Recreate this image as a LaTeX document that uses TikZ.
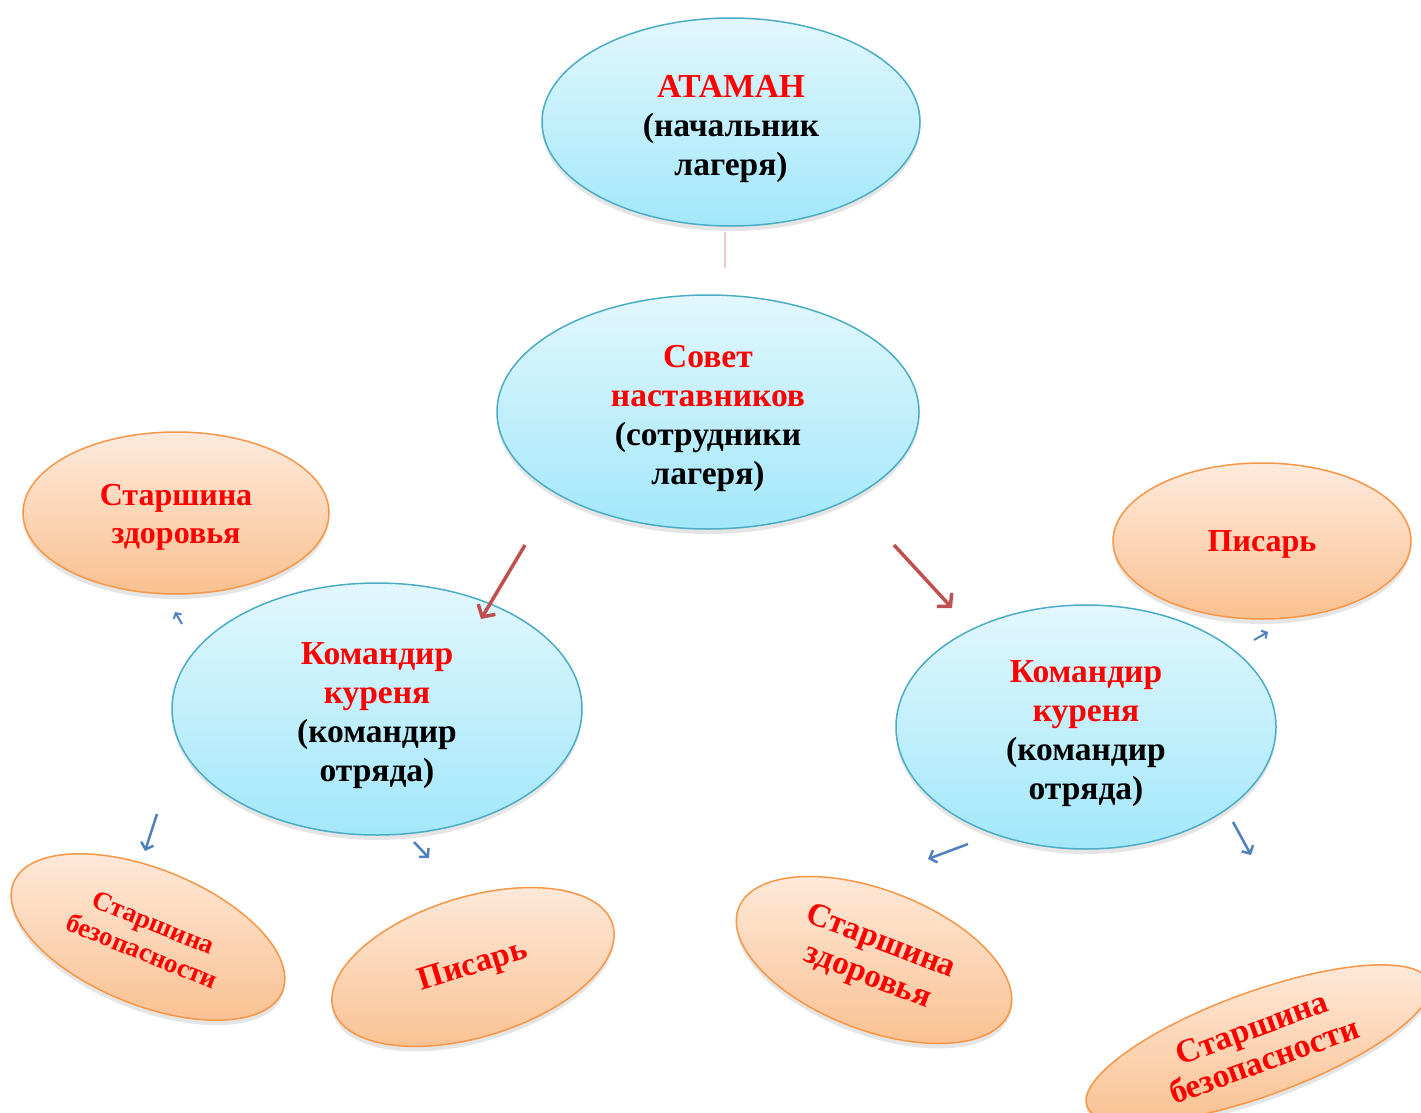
\documentclass[tikz,border=0pt]{standalone}
\usepackage{fontspec}
\setmainfont{Liberation Serif}
\usetikzlibrary{shapes.geometric,shadows,arrows.meta}
\definecolor{bluetop}{HTML}{E2F7FD}
\definecolor{bluebot}{HTML}{A2E7FA}
\definecolor{blueline}{HTML}{4BACC6}
\definecolor{orgtop}{HTML}{FEEBDD}
\definecolor{orgbot}{HTML}{FAC090}
\definecolor{orgline}{HTML}{F79646}
\definecolor{redarrow}{HTML}{C0504D}
\definecolor{bluearrow}{HTML}{4F81BD}
\definecolor{faintline}{HTML}{F0C8C8}
\newcommand\liftup[1]{\rule{0pt}{#1}}
\tikzset{
  base/.style={ellipse, draw, line width=1.5pt, align=center, inner sep=0pt,
    font=\bfseries\fontsize{32}{38}\selectfont,
    drop shadow={shadow xshift=0pt, shadow yshift=-5pt, opacity=0.2}},
  bluebox/.style={base, draw=blueline, top color=bluetop, bottom color=bluebot,
    font=\bfseries\fontsize{33.5}{39}\selectfont},
  orangebox/.style={base, draw=orgline, top color=orgtop, bottom color=orgbot, text=red},
  redarr/.style={draw=redarrow, line width=3.5pt, -{Straight Barb[length=9pt,width=20pt]}},
  bluearr/.style={draw=bluearrow, line width=2.5pt, -{Straight Barb[length=6pt,width=13pt]}},
}
\begin{document}
\begin{tikzpicture}[x=1pt,y=-1pt]
\useasboundingbox (0,0) rectangle (1421,1113);
\clip (0,0) rectangle (1421,1113);
\fill[white] (0,0) rectangle (1421,1113);

\node[bluebox, minimum width=378pt, minimum height=208pt] (ataman) at (731,122)
  {\liftup{36pt}\textcolor{red}{АТАМАН}\\(начальник\\лагеря)};
\node[bluebox, minimum width=422pt, minimum height=234pt] (sovet) at (708,412)
  {\liftup{36pt}\textcolor{red}{Совет}\\\textcolor{red}{наставников}\\(сотрудники\\лагеря)};
\node[bluebox, minimum width=410pt, minimum height=252pt] (kl) at (377,709)
  {\liftup{36pt}\textcolor{red}{Командир}\\\textcolor{red}{куреня}\\(командир\\отряда)};
\node[bluebox, minimum width=380pt, minimum height=244pt] (kr) at (1086,727)
  {\liftup{36pt}\textcolor{red}{Командир}\\\textcolor{red}{куреня}\\(командир\\отряда)};

\node[orangebox, minimum width=306pt, minimum height=162pt] (zl) at (176,513)
  {\liftup{30pt}Старшина\\здоровья};
\node[orangebox, minimum width=298pt, minimum height=156pt] (pr) at (1262,541)
  {\liftup{28pt}Писарь};
\node[orangebox, rotate=-22, minimum width=290pt, minimum height=136pt,
  font=\bfseries\fontsize{27}{31}\selectfont] (bl) at (148,937)
  {Старшина\\безопасности};
\node[orangebox, rotate=17, minimum width=292pt, minimum height=140pt,
  font=\bfseries\fontsize{33}{38}\selectfont] (pl) at (473,967)
  {Писарь};
\node[orangebox, rotate=-21, minimum width=290pt, minimum height=140pt,
  font=\bfseries\fontsize{33}{37}\selectfont] (zr) at (874,960)
  {Старшина\\здоровья};
\node[orangebox, rotate=20, minimum width=364pt, minimum height=104pt,
  font=\bfseries\fontsize{33.5}{35}\selectfont] (br) at (1258,1044)
  {Старшина\\безопасности};

% connectors
\coordinate (f1) at (725,232); \coordinate (f2) at (725,268);
\draw[faintline, line width=1.5pt] (f1) -- (f2);

\coordinate (r1s) at (525,545); \coordinate (r1e) at (481,619);
\draw[redarr] (r1s) -- (r1e);
\coordinate (r2s) at (894,545); \coordinate (r2e) at (952,608);
\draw[redarr] (r2s) -- (r2e);

\coordinate (b1s) at (157,814); \coordinate (b1e) at (145,851);
\draw[bluearr] (b1s) -- (b1e);
\coordinate (b2s) at (414,842); \coordinate (b2e) at (429,858);
\draw[bluearr] (b2s) -- (b2e);
\coordinate (b3s) at (182,624); \coordinate (b3e) at (175,612);
\draw[bluearr, line width=2pt, -{Straight Barb[length=4pt,width=9pt]}] (b3s) -- (b3e);
\coordinate (b4s) at (968,844); \coordinate (b4e) at (928,859);
\draw[bluearr] (b4s) -- (b4e);
\coordinate (b5s) at (1233,822); \coordinate (b5e) at (1251,855);
\draw[bluearr] (b5s) -- (b5e);
\coordinate (b6s) at (1254,640); \coordinate (b6e) at (1268,632);
\draw[bluearr, line width=2pt, -{Straight Barb[length=4pt,width=9pt]}] (b6s) -- (b6e);
\end{tikzpicture}
\end{document}
